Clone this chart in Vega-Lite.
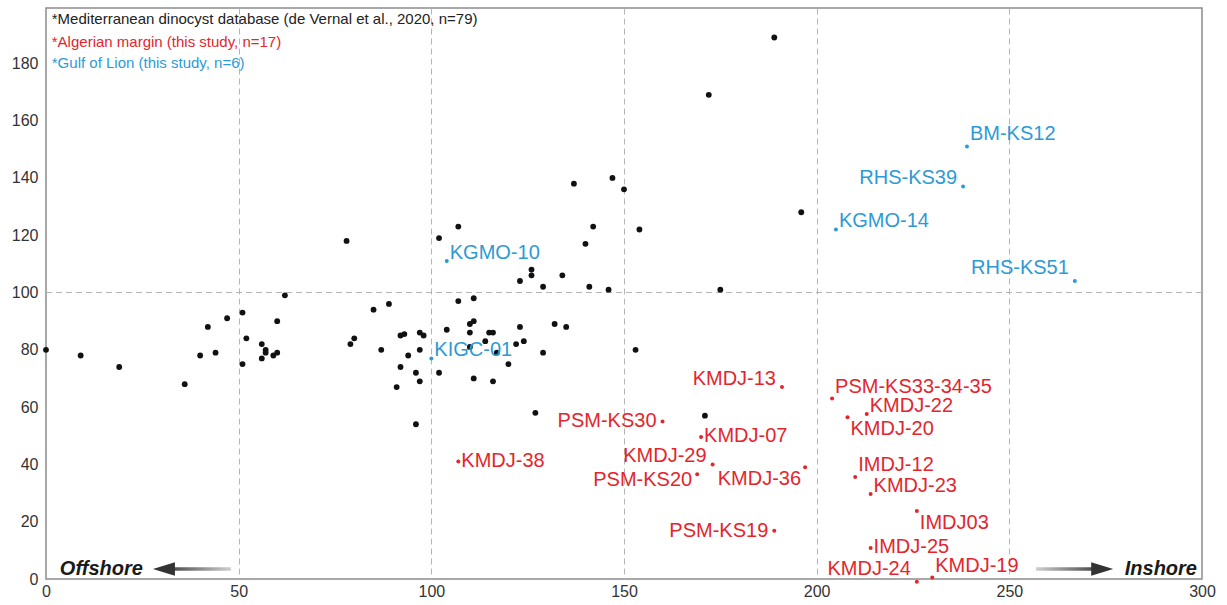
{
  "$schema": "https://vega.github.io/schema/vega-lite/v6.json",
  "width": 1156,
  "height": 571,
  "autosize": {"type": "none"},
  "padding": {"left": 46, "top": 8, "right": 25, "bottom": 26},
  "background": "white",
  "config": {
    "font": "Liberation Sans",
    "view": {"stroke": "#8c8c8c", "strokeWidth": 1.5}
  },
  "datasets": {
    "pts": [
      {"group": "med", "x": 0, "y": 80}, {"group": "med", "x": 9, "y": 78}, {"group": "med", "x": 19, "y": 74},
      {"group": "med", "x": 36, "y": 68}, {"group": "med", "x": 40, "y": 78}, {"group": "med", "x": 42, "y": 88},
      {"group": "med", "x": 44, "y": 79}, {"group": "med", "x": 47, "y": 91}, {"group": "med", "x": 51, "y": 93},
      {"group": "med", "x": 51, "y": 75}, {"group": "med", "x": 52, "y": 84}, {"group": "med", "x": 56, "y": 82},
      {"group": "med", "x": 56, "y": 77}, {"group": "med", "x": 57, "y": 80}, {"group": "med", "x": 57, "y": 79},
      {"group": "med", "x": 59, "y": 78}, {"group": "med", "x": 60, "y": 79}, {"group": "med", "x": 60, "y": 90},
      {"group": "med", "x": 62, "y": 99}, {"group": "med", "x": 78, "y": 118}, {"group": "med", "x": 85, "y": 94},
      {"group": "med", "x": 89, "y": 96}, {"group": "med", "x": 80, "y": 84}, {"group": "med", "x": 79, "y": 82},
      {"group": "med", "x": 87, "y": 80}, {"group": "med", "x": 92, "y": 85}, {"group": "med", "x": 93, "y": 85.5},
      {"group": "med", "x": 97, "y": 86}, {"group": "med", "x": 98, "y": 85}, {"group": "med", "x": 97, "y": 80},
      {"group": "med", "x": 94, "y": 78}, {"group": "med", "x": 92, "y": 74}, {"group": "med", "x": 96, "y": 72},
      {"group": "med", "x": 97, "y": 69}, {"group": "med", "x": 91, "y": 67}, {"group": "med", "x": 96, "y": 54},
      {"group": "med", "x": 104, "y": 87}, {"group": "med", "x": 107, "y": 97}, {"group": "med", "x": 111, "y": 98},
      {"group": "med", "x": 110, "y": 89}, {"group": "med", "x": 111, "y": 90}, {"group": "med", "x": 110, "y": 86},
      {"group": "med", "x": 115, "y": 86}, {"group": "med", "x": 116, "y": 86}, {"group": "med", "x": 114, "y": 83},
      {"group": "med", "x": 110, "y": 81}, {"group": "med", "x": 102, "y": 72}, {"group": "med", "x": 111, "y": 70},
      {"group": "med", "x": 116, "y": 69}, {"group": "med", "x": 123, "y": 104}, {"group": "med", "x": 129, "y": 102},
      {"group": "med", "x": 141, "y": 102}, {"group": "med", "x": 146, "y": 101}, {"group": "med", "x": 123, "y": 88},
      {"group": "med", "x": 132, "y": 89}, {"group": "med", "x": 135, "y": 88}, {"group": "med", "x": 124, "y": 83},
      {"group": "med", "x": 117, "y": 79}, {"group": "med", "x": 129, "y": 79}, {"group": "med", "x": 120, "y": 75},
      {"group": "med", "x": 153, "y": 80}, {"group": "med", "x": 127, "y": 58}, {"group": "med", "x": 137, "y": 138},
      {"group": "med", "x": 147, "y": 140}, {"group": "med", "x": 150, "y": 136}, {"group": "med", "x": 142, "y": 123},
      {"group": "med", "x": 154, "y": 122}, {"group": "med", "x": 140, "y": 117}, {"group": "med", "x": 107, "y": 123},
      {"group": "med", "x": 102, "y": 119}, {"group": "med", "x": 126, "y": 108}, {"group": "med", "x": 126, "y": 106},
      {"group": "med", "x": 134, "y": 106}, {"group": "med", "x": 189, "y": 189}, {"group": "med", "x": 172, "y": 169},
      {"group": "med", "x": 196, "y": 128}, {"group": "med", "x": 175, "y": 101}, {"group": "med", "x": 171, "y": 57},
      {"group": "med", "x": 122, "y": 82},
      {"group": "alg", "name": "KMDJ-13", "x": 191, "y": 67},
      {"group": "alg", "name": "PSM-KS33-34-35", "x": 204, "y": 63},
      {"group": "alg", "name": "KMDJ-22", "x": 213, "y": 57.6},
      {"group": "alg", "name": "KMDJ-20", "x": 208, "y": 56.5},
      {"group": "alg", "name": "PSM-KS30", "x": 160, "y": 55},
      {"group": "alg", "name": "KMDJ-07", "x": 170, "y": 49.6},
      {"group": "alg", "name": "KMDJ-29", "x": 173, "y": 40},
      {"group": "alg", "name": "PSM-KS20", "x": 169, "y": 36.6},
      {"group": "alg", "name": "KMDJ-36", "x": 197, "y": 39},
      {"group": "alg", "name": "IMDJ-12", "x": 210, "y": 35.6},
      {"group": "alg", "name": "KMDJ-23", "x": 214, "y": 29.7},
      {"group": "alg", "name": "IMDJ03", "x": 226, "y": 23.7},
      {"group": "alg", "name": "PSM-KS19", "x": 189, "y": 16.8},
      {"group": "alg", "name": "KMDJ-38", "x": 107, "y": 41},
      {"group": "alg", "name": "IMDJ-25", "x": 214, "y": 10.8},
      {"group": "alg", "name": "KMDJ-24", "x": 226, "y": -1},
      {"group": "alg", "name": "KMDJ-19", "x": 230, "y": 0.5},
      {"group": "gol", "name": "KGMO-10", "x": 104, "y": 111},
      {"group": "gol", "name": "KIGC-01", "x": 100, "y": 77},
      {"group": "gol", "name": "KGMO-14", "x": 205, "y": 122},
      {"group": "gol", "name": "BM-KS12", "x": 239, "y": 151},
      {"group": "gol", "name": "RHS-KS39", "x": 238, "y": 137},
      {"group": "gol", "name": "RHS-KS51", "x": 267, "y": 104}
    ],
    "notes": [
      {"t": "*Mediterranean dinocyst database (de Vernal et al., 2020, n=79)", "group": "med", "x": 1.5, "y": 195.3},
      {"t": "*Algerian margin (this study, n=17)", "group": "alg", "x": 1.5, "y": 187.6},
      {"t": "*Gulf of Lion (this study, n=6)", "group": "gol", "x": 1.5, "y": 180}
    ]
  },
  "encoding": {
    "x": {"field": "x", "type": "quantitative", "scale": {"domain": [0, 300], "nice": false, "zero": false},
      "axis": {"values": [0, 50, 100, 150, 200, 250, 300], "title": null, "grid": true, "gridDash": [6, 4], "gridColor": "#b5b5b5", "gridWidth": 1,
        "gridOpacity": {"condition": {"test": "datum.value === 0 || datum.value === 300", "value": 0}, "value": 1},
        "domain": false, "ticks": false, "labelFontSize": 16, "labelColor": "#333333", "labelPadding": 4, "labelFlush": false}},
    "y": {"field": "y", "type": "quantitative", "scale": {"domain": [0, 199.3], "nice": false, "zero": false},
      "axis": {"values": [0, 20, 40, 60, 80, 100, 120, 140, 160, 180], "title": null, "grid": false, "domain": false, "ticks": false,
        "labelFontSize": 16, "labelColor": "#333333", "labelPadding": 8, "labelFlush": false}}
  },
  "layer": [
    {
      "data": {"values": [{"x": 0, "x2": 300, "y": 100}]},
      "mark": {"type": "rule", "color": "#b5b5b5", "strokeDash": [6, 4], "strokeWidth": 1},
      "encoding": {"x2": {"field": "x2"}}
    },
    {
      "data": {"values": [{"x": 30.6, "x2": 48, "y": 2.9, "y2": 4.1}]},
      "mark": {"type": "rect", "color": {"gradient": "linear", "x1": 0, "y1": 0, "x2": 1, "y2": 0, "stops": [{"offset": 0, "color": "#3a3a3a"}, {"offset": 1, "color": "#d0d0d0"}]}},
      "encoding": {"x2": {"field": "x2"}, "y2": {"field": "y2"}}
    },
    {
      "data": {"values": [{"x": 256.9, "x2": 274.1, "y": 2.9, "y2": 4.1}]},
      "mark": {"type": "rect", "color": {"gradient": "linear", "x1": 0, "y1": 0, "x2": 1, "y2": 0, "stops": [{"offset": 0, "color": "#d0d0d0"}, {"offset": 1, "color": "#3a3a3a"}]}},
      "encoding": {"x2": {"field": "x2"}, "y2": {"field": "y2"}}
    },
    {
      "data": {"values": [{"x": 30.6, "y": 3.5}]},
      "mark": {"type": "point", "shape": "M-1,0L1,-0.62L1,0.62Z", "filled": true, "color": "#333333", "size": 484, "opacity": 1},
      "encoding": {}
    },
    {
      "data": {"values": [{"x": 274.1, "y": 3.5}]},
      "mark": {"type": "point", "shape": "M1,0L-1,-0.62L-1,0.62Z", "filled": true, "color": "#333333", "size": 484, "opacity": 1},
      "encoding": {}
    },
    {
      "data": {"name": "pts"},
      "transform": [{"filter": "datum.group === 'med'"}],
      "mark": {"type": "circle", "color": "#111111", "size": 34, "opacity": 1},
      "encoding": {}
    },
    {
      "data": {"name": "pts"},
      "transform": [{"filter": "datum.group !== 'med'"}],
      "mark": {"type": "circle", "size": 16, "opacity": 1},
      "encoding": {
        "color": {"field": "group", "type": "nominal", "scale": {"domain": ["med", "alg", "gol"], "range": ["#222222", "#e3262d", "#2d9ad5"]}, "legend": null}
      }
    },
    {
      "data": {"name": "pts"},
      "transform": [{"filter": {"field": "name", "oneOf": ["KMDJ-07", "KMDJ-38", "IMDJ-25"]}}],
      "mark": {"type": "text", "align": "left", "baseline": "middle", "dx": 3, "dy": -1, "fontSize": 20},
      "encoding": {
        "text": {"field": "name"},
        "color": {"field": "group", "type": "nominal", "scale": {"domain": ["med", "alg", "gol"], "range": ["#222222", "#e3262d", "#2d9ad5"]}, "legend": null}
      }
    },
    {
      "data": {"name": "pts"},
      "transform": [{"filter": {"field": "name", "oneOf": ["KMDJ-22", "KMDJ-23", "KGMO-10", "KIGC-01", "KGMO-14"]}}],
      "mark": {"type": "text", "align": "left", "baseline": "middle", "dx": 3, "dy": -8, "fontSize": 20},
      "encoding": {
        "text": {"field": "name"},
        "color": {"field": "group", "type": "nominal", "scale": {"domain": ["med", "alg", "gol"], "range": ["#222222", "#e3262d", "#2d9ad5"]}, "legend": null}
      }
    },
    {
      "data": {"name": "pts"},
      "transform": [{"filter": {"field": "name", "oneOf": ["PSM-KS33-34-35", "IMDJ-12", "BM-KS12", "KMDJ-19"]}}],
      "mark": {"type": "text", "align": "left", "baseline": "middle", "dx": 3, "dy": -12, "fontSize": 20},
      "encoding": {
        "text": {"field": "name"},
        "color": {"field": "group", "type": "nominal", "scale": {"domain": ["med", "alg", "gol"], "range": ["#222222", "#e3262d", "#2d9ad5"]}, "legend": null}
      }
    },
    {
      "data": {"name": "pts"},
      "transform": [{"filter": {"field": "name", "oneOf": ["KMDJ-20", "IMDJ03"]}}],
      "mark": {"type": "text", "align": "left", "baseline": "middle", "dx": 3, "dy": 12, "fontSize": 20},
      "encoding": {
        "text": {"field": "name"},
        "color": {"field": "group", "type": "nominal", "scale": {"domain": ["med", "alg", "gol"], "range": ["#222222", "#e3262d", "#2d9ad5"]}, "legend": null}
      }
    },
    {
      "data": {"name": "pts"},
      "transform": [{"filter": {"field": "name", "oneOf": ["PSM-KS30", "PSM-KS19"]}}],
      "mark": {"type": "text", "align": "right", "baseline": "middle", "dx": -6, "dy": 0, "fontSize": 20},
      "encoding": {
        "text": {"field": "name"},
        "color": {"field": "group", "type": "nominal", "scale": {"domain": ["med", "alg", "gol"], "range": ["#222222", "#e3262d", "#2d9ad5"]}, "legend": null}
      }
    },
    {
      "data": {"name": "pts"},
      "transform": [{"filter": {"field": "name", "oneOf": ["KMDJ-13", "KMDJ-29", "RHS-KS39"]}}],
      "mark": {"type": "text", "align": "right", "baseline": "middle", "dx": -6, "dy": -8, "fontSize": 20},
      "encoding": {
        "text": {"field": "name"},
        "color": {"field": "group", "type": "nominal", "scale": {"domain": ["med", "alg", "gol"], "range": ["#222222", "#e3262d", "#2d9ad5"]}, "legend": null}
      }
    },
    {
      "data": {"name": "pts"},
      "transform": [{"filter": {"field": "name", "oneOf": ["RHS-KS51", "KMDJ-24"]}}],
      "mark": {"type": "text", "align": "right", "baseline": "middle", "dx": -6, "dy": -13, "fontSize": 20},
      "encoding": {
        "text": {"field": "name"},
        "color": {"field": "group", "type": "nominal", "scale": {"domain": ["med", "alg", "gol"], "range": ["#222222", "#e3262d", "#2d9ad5"]}, "legend": null}
      }
    },
    {
      "data": {"name": "pts"},
      "transform": [{"filter": {"field": "name", "oneOf": ["PSM-KS20"]}}],
      "mark": {"type": "text", "align": "right", "baseline": "middle", "dx": -5, "dy": 6, "fontSize": 20},
      "encoding": {
        "text": {"field": "name"},
        "color": {"field": "group", "type": "nominal", "scale": {"domain": ["med", "alg", "gol"], "range": ["#222222", "#e3262d", "#2d9ad5"]}, "legend": null}
      }
    },
    {
      "data": {"name": "pts"},
      "transform": [{"filter": {"field": "name", "oneOf": ["KMDJ-36"]}}],
      "mark": {"type": "text", "align": "right", "baseline": "middle", "dx": -4, "dy": 12, "fontSize": 20},
      "encoding": {
        "text": {"field": "name"},
        "color": {"field": "group", "type": "nominal", "scale": {"domain": ["med", "alg", "gol"], "range": ["#222222", "#e3262d", "#2d9ad5"]}, "legend": null}
      }
    },
    {
      "data": {"name": "notes"},
      "mark": {"type": "text", "align": "left", "baseline": "middle", "fontSize": 15},
      "encoding": {
        "text": {"field": "t"},
        "color": {"field": "group", "type": "nominal", "scale": {"domain": ["med", "alg", "gol"], "range": ["#222222", "#e3262d", "#2d9ad5"]}, "legend": null}
      }
    },
    {
      "data": {"values": [{"t": "Offshore", "x": 3.6, "y": 3.6}]},
      "mark": {"type": "text", "align": "left", "baseline": "middle", "fontSize": 20, "fontWeight": "bold", "fontStyle": "italic", "color": "#1a1a1a"},
      "encoding": {"text": {"field": "t"}}
    },
    {
      "data": {"values": [{"t": "Inshore", "x": 298.7, "y": 3.6}]},
      "mark": {"type": "text", "align": "right", "baseline": "middle", "fontSize": 20, "fontWeight": "bold", "fontStyle": "italic", "color": "#1a1a1a"},
      "encoding": {"text": {"field": "t"}}
    }
  ]
}
